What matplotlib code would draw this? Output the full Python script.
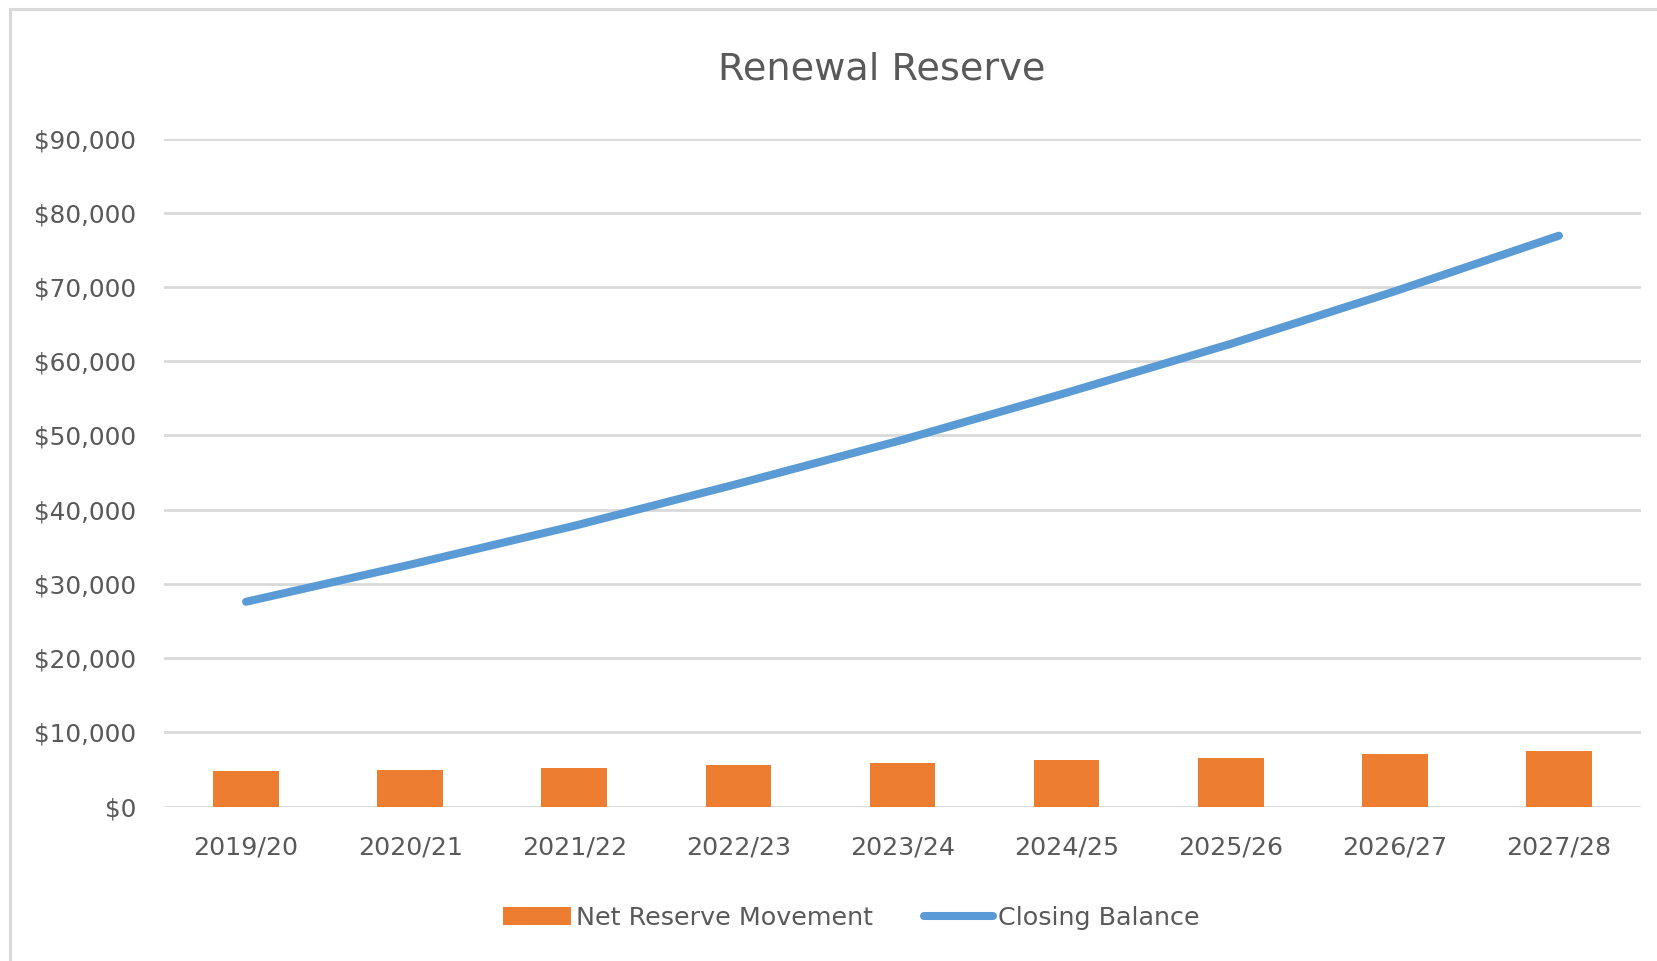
import matplotlib
matplotlib.use("Agg")
import matplotlib.pyplot as plt
from matplotlib.patches import Rectangle
from matplotlib.ticker import FuncFormatter

years = ["2019/20", "2020/21", "2021/22", "2022/23", "2023/24",
         "2024/25", "2025/26", "2026/27", "2027/28"]
net_movement = [4800, 5000, 5230, 5680, 5900, 6350, 6580, 7080, 7490]
closing_balance = [27600, 32600, 37830, 43510, 49410, 55760, 62340, 69420, 76910]

TXT = "#595959"
GRID = "#D9D9D9"
ORANGE = "#ED7D31"
BLUE = "#5B9BD5"

plt.rcParams['font.family'] = ['DejaVu Sans']

fig = plt.figure(figsize=(16.58, 9.61), dpi=100)
ax = fig.add_axes([164/1658, 154.3/961, (1641-164)/1658, (822.5-154.3)/961])

x = list(range(len(years)))
bars = ax.bar(x, net_movement, width=0.4, color=ORANGE, zorder=2, label="Net Reserve Movement")
line, = ax.plot(x, closing_balance, color=BLUE, lw=5.8, solid_capstyle='round', zorder=3,
                label="Closing Balance")

ax.set_xlim(-0.5, len(years) - 0.5)
ax.set_ylim(0, 90000)
ax.set_yticks(range(0, 90001, 10000))
ax.yaxis.set_major_formatter(FuncFormatter(lambda v, p: "${:,.0f}".format(v)))
ax.set_xticks(x)
ax.set_xticklabels(years)
ax.grid(axis='y', color=GRID, lw=2, zorder=0)
ax.set_axisbelow(True)
for s in ax.spines.values():
    s.set_visible(False)
ax.tick_params(axis='y', length=0, pad=20, labelsize=17.8, labelcolor=TXT)
ax.tick_params(axis='x', length=0, pad=21, labelsize=18.3, labelcolor=TXT)

fig.text(882/1658, 1 - 69/961, "Renewal Reserve", ha='center', va='center',
         fontsize=27.5, color=TXT)

leg = fig.legend([bars, line], ["Net Reserve Movement", "Closing Balance"],
                 loc='center', bbox_to_anchor=(851/1658, 1 - 918/961), ncol=2,
                 frameon=False, fontsize=18.3, handlelength=2.7, handletextpad=0.2,
                 columnspacing=2.0, labelcolor=TXT)

# chart area border
fig.patches.append(Rectangle((10/1658, -0.1), 1.2, 1 - 9/961 + 0.1, transform=fig.transFigure,
                             fill=False, edgecolor=GRID, lw=2.2, zorder=0))

fig.savefig("out.png", dpi=100, facecolor='white')
